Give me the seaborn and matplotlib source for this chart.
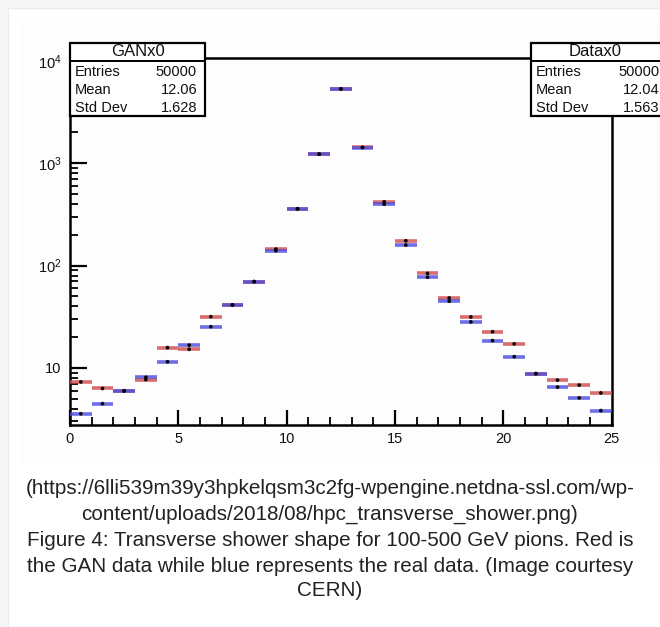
import numpy as np
import pandas as pd
import matplotlib
matplotlib.use("Agg")
import matplotlib.pyplot as plt
from matplotlib.patches import Rectangle
from matplotlib.ticker import FixedLocator, NullFormatter, FixedFormatter
import seaborn as sns

# ---------------- data ----------------
bin_centers = [0.5, 1.5, 2.5, 3.5, 4.5, 5.5, 6.5, 7.5, 8.5, 9.5, 10.5, 11.5, 12.5,
               13.5, 14.5, 15.5, 16.5, 17.5, 18.5, 19.5, 20.5, 21.5, 22.5, 23.5, 24.5]
gan_values = [7.3, 6.3, 6.0, 7.7, 15.8, 15.2, 31.7, 41.3, 69.8, 145, 360, 1228, 5333,
              1430, 420, 175, 84, 48.3, 31.5, 22.6, 17.2, 8.8, 7.6, 6.8, 5.7]
data_values = [3.57, 4.48, 5.95, 8.1, 11.5, 16.7, 25.3, 41.3, 69.8, 140, 358, 1228, 5333,
               1426, 398, 159, 77, 44.9, 28.2, 18.5, 12.9, 8.8, 6.5, 5.1, 3.83]
y_tick_values = [10, 100, 1000, 10000]
y_tick_labels = ["10", r"$10^{2}$", r"$10^{3}$", r"$10^{4}$"]
x_tick_values = [0, 5, 10, 15, 20, 25]
gan_stats = [("Entries", "50000"), ("Mean", "12.06"), ("Std Dev", "1.628")]
data_stats = [("Entries", "50000"), ("Mean", "12.04"), ("Std Dev", "1.563")]
caption_lines = [
    "(https://6lli539m39y3hpkelqsm3c2fg-wpengine.netdna-ssl.com/wp-",
    "content/uploads/2018/08/hpc_transverse_shower.png)",
    "Figure 4: Transverse shower shape for 100-500 GeV pions. Red is",
    "the GAN data while blue represents the real data. (Image courtesy",
    "CERN)",
]

df = pd.DataFrame({
    "x": bin_centers * 2,
    "y": gan_values + data_values,
    "series": ["GAN"] * len(bin_centers) + ["Data"] * len(bin_centers),
})

sns.set_theme(style="white")
plt.rcParams["font.family"] = ["Liberation Sans", "DejaVu Sans"]
plt.rcParams["mathtext.fontset"] = "custom"
plt.rcParams["mathtext.rm"] = "Liberation Sans"
plt.rcParams["mathtext.it"] = "Liberation Sans"

W, H = 660, 627
fig = plt.figure(figsize=(W / 100, H / 100), dpi=100)
fig.patch.set_facecolor("#f6f6f6")

def px_rect(x0, y0, x1, y1, **kw):
    r = Rectangle((x0 / W, 1 - y1 / H), (x1 - x0) / W, (y1 - y0) / H,
                  transform=fig.transFigure, **kw)
    fig.patches.append(r)
    return r

# page panels (behind the axes)
px_rect(8, 8, 670, 640, facecolor="white", edgecolor="#ececec", lw=1, zorder=-2)
px_rect(19, 23, 670, 463, facecolor="#fdfdfd", edgecolor="none", zorder=-1)

ax_l, ax_r, ax_t, ax_b = 70, 611.7, 58.3, 425
ax = fig.add_axes([ax_l / W, 1 - ax_b / H, (ax_r - ax_l) / W, (ax_b - ax_t) / H])
ax.set_facecolor("#fdfdfd")

red = "#d24a4a"
blue = "#4a4ae0"
for name, col in [("GAN", red), ("Data", blue)]:
    sub = df[df["series"] == name]
    ax.errorbar(sub["x"], sub["y"], xerr=0.5, fmt="none", ecolor=col,
                elinewidth=2.6, alpha=0.8, capsize=0, zorder=3)
sns.scatterplot(data=df, x="x", y="y", color="black", s=7, marker="o",
                edgecolor="none", legend=False, ax=ax, zorder=5)

ax.set_yscale("log")
ax.set_xlim(0, 25)
ax.set_ylim(2.77, 10620)
ax.set_xlabel("")
ax.set_ylabel("")

ax.xaxis.set_major_locator(FixedLocator(x_tick_values))
ax.xaxis.set_minor_locator(FixedLocator(list(range(0, 26))))
ax.yaxis.set_major_locator(FixedLocator(y_tick_values))
minor = [m * 10 ** e for e in range(0, 4) for m in range(2, 10)]
ax.yaxis.set_minor_locator(FixedLocator(minor))
ax.yaxis.set_minor_formatter(NullFormatter())
ax.yaxis.set_major_formatter(FixedFormatter(y_tick_labels))
ax.xaxis.set_major_formatter(FixedFormatter([str(v) for v in x_tick_values]))

ax.tick_params(axis="both", which="both", direction="in", color="black",
               labelsize=10.5, labelcolor="#111111")
ax.tick_params(axis="y", which="major", length=12, width=1.6, left=True, pad=6)
ax.tick_params(axis="y", which="minor", length=6, width=1.3, left=True)
ax.tick_params(axis="x", which="major", length=11, width=1.6, bottom=True, pad=5)
ax.tick_params(axis="x", which="minor", length=5.5, width=1.3, bottom=True)
for s in ax.spines.values():
    s.set_visible(True)
    s.set_color("black")
    s.set_linewidth(1.8)

# stat boxes
def stat_box(x0, x1, title, rows, title_cx, lab_x, val_x):
    y0, ysep, y1 = 42.7, 60.7, 116
    px_rect(x0, y0, x1, y1, facecolor="white", edgecolor="black", lw=1.6, zorder=10)
    fig.add_artist(plt.Line2D([x0 / W, x1 / W], [1 - ysep / H, 1 - ysep / H],
                              transform=fig.transFigure, color="black", lw=1.4, zorder=11))
    fig.text(title_cx / W, 1 - 51.7 / H, title, ha="center", va="center",
             fontsize=12, color="#111111", zorder=12)
    for (lab, val), yy in zip(rows, [71.7, 90, 108.3]):
        fig.text(lab_x / W, 1 - yy / H, lab, ha="left", va="center",
                 fontsize=10.5, color="#111111", zorder=12)
        fig.text(val_x / W, 1 - yy / H, val, ha="right", va="center",
                 fontsize=10.5, color="#111111", zorder=12)

stat_box(70, 205, "GANx0", gan_stats, 137.5, 75, 197)
stat_box(530.7, 700, "Datax0", data_stats, 595, 536, 659.5)

# caption
for line, yy in zip(caption_lines, [488, 514, 540, 566, 591]):
    fig.text(330 / W, 1 - yy / H, line, ha="center", va="center",
             fontsize=14.9, color="#222222")

fig.savefig("out.png", dpi=100, facecolor=fig.get_facecolor())
